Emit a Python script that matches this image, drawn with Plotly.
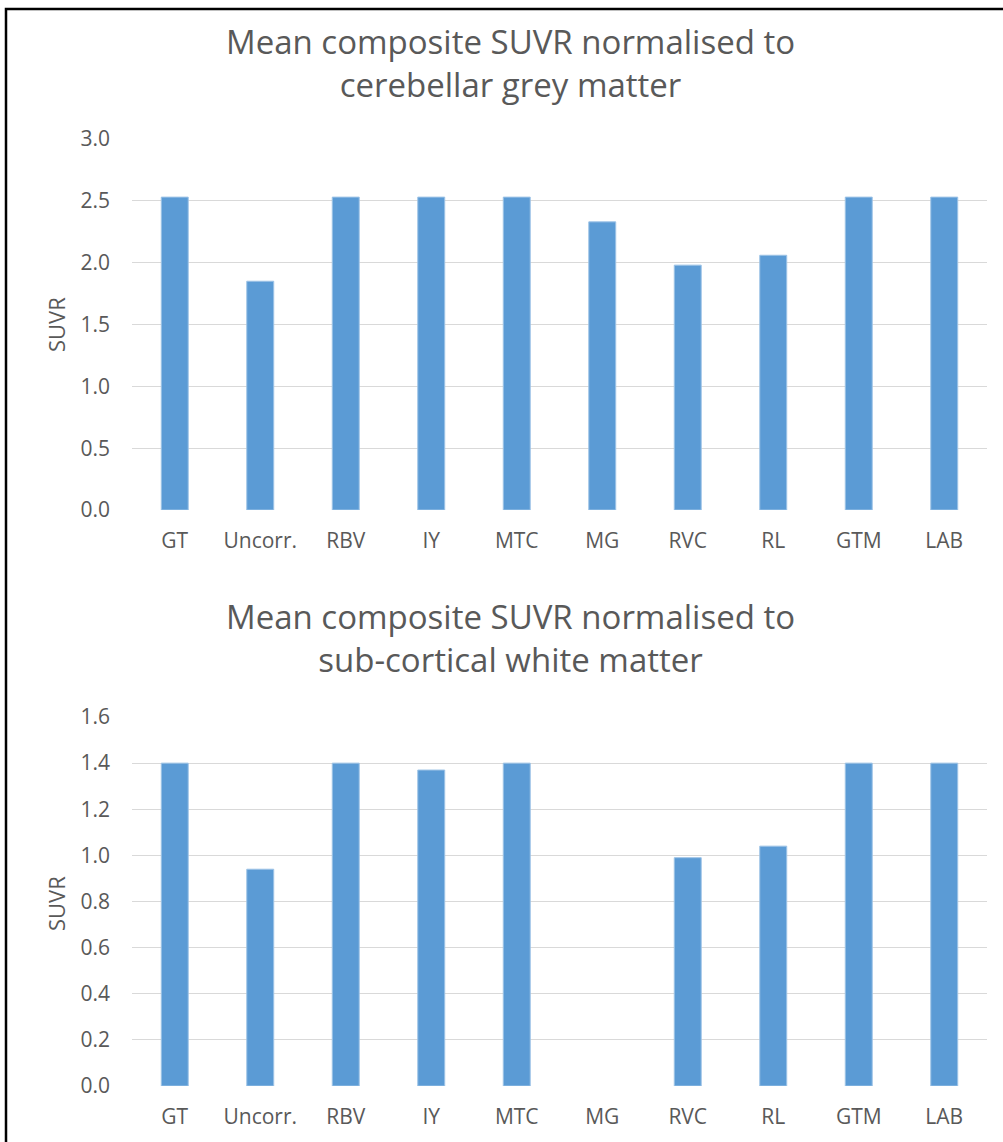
import plotly.graph_objects as go

categories = ["GT", "Uncorr.", "RBV", "IY", "MTC", "MG", "RVC", "RL", "GTM", "LAB"]
suvr_cerebellar = [2.53, 1.85, 2.53, 2.53, 2.53, 2.33, 1.98, 2.06, 2.53, 2.53]
suvr_white = [1.40, 0.94, 1.40, 1.37, 1.40, None, 0.99, 1.04, 1.40, 1.40]
ticks_top = [0.0, 0.5, 1.0, 1.5, 2.0, 2.5, 3.0]
ticks_bottom = [0.0, 0.2, 0.4, 0.6, 0.8, 1.0, 1.2, 1.4, 1.6]
title_top = "Mean composite SUVR normalised to<br>cerebellar grey matter"
title_bottom = "Mean composite SUVR normalised to<br>sub-cortical white matter"
y_title = "SUVR"

W, H = 1003, 1142
FONT = "Open Sans"
TXT = "#595959"
GRID = "#D9D9D9"
BAR = "#5B9BD5"
BAR_EDGE = "#9DC3E6"

def px(x):
    return x / W

def py(y):
    return 1 - y / H

fig = go.Figure()
fig.add_trace(go.Bar(x=categories, y=suvr_cerebellar, marker=dict(color=BAR, line=dict(color=BAR_EDGE, width=1)),
                     xaxis="x", yaxis="y", showlegend=False))
fig.add_trace(go.Bar(x=categories, y=suvr_white, marker=dict(color=BAR, line=dict(color=BAR_EDGE, width=1)),
                     xaxis="x2", yaxis="y2", showlegend=False))

xcommon = dict(showgrid=False, showline=False, zeroline=False, ticks="", tickfont=dict(family=FONT, size=21, color=TXT),
               ticklabelstandoff=16, fixedrange=True, automargin=False)
ycommon = dict(showgrid=True, gridcolor=GRID, gridwidth=1.2, zeroline=False, showline=False, ticks="",
               tickfont=dict(family=FONT, size=21, color=TXT), ticklabelstandoff=21, automargin=False)

fig.update_layout(
    width=W, height=H, autosize=False,
    margin=dict(l=0, r=0, t=0, b=0, pad=0, autoexpand=False),
    paper_bgcolor="white", plot_bgcolor="white",
    bargap=0.685,
    xaxis=dict(domain=[px(132), px(987)], anchor="y", **xcommon),
    yaxis=dict(domain=[py(510), py(139)], anchor="x", range=[0, 3.0], tickvals=ticks_top,
               ticktext=[f"{v:.1f}" for v in ticks_top], **ycommon),
    xaxis2=dict(domain=[px(132), px(987)], anchor="y2", **xcommon),
    yaxis2=dict(domain=[py(1086), py(717)], anchor="x2", range=[0, 1.6], tickvals=ticks_bottom,
                ticktext=[f"{v:.1f}" for v in ticks_bottom], **ycommon),
    annotations=[
        dict(text=title_top, x=px(511), y=py(63), xref="paper", yref="paper", showarrow=False,
             font=dict(family=FONT, size=33, color=TXT), xanchor="center", yanchor="middle"),
        dict(text=title_bottom, x=px(511), y=py(638), xref="paper", yref="paper", showarrow=False,
             font=dict(family=FONT, size=33, color=TXT), xanchor="center", yanchor="middle"),
        dict(text=y_title, x=px(56), y=py(325), xref="paper", yref="paper", showarrow=False, textangle=-90,
             font=dict(family=FONT, size=22, color=TXT), xanchor="center", yanchor="middle"),
        dict(text=y_title, x=px(56), y=py(904), xref="paper", yref="paper", showarrow=False, textangle=-90,
             font=dict(family=FONT, size=22, color=TXT), xanchor="center", yanchor="middle"),
    ],
    shapes=[
        dict(type="rect", xref="paper", yref="paper", x0=px(6), x1=1.02, y0=-0.05, y1=py(9),
             line=dict(color="black", width=2.5), fillcolor="rgba(0,0,0,0)"),
    ],
)

fig.write_html("out.html", config={"displayModeBar": False},
               post_script="document.body.style.margin='0';document.body.style.overflow='hidden';")
